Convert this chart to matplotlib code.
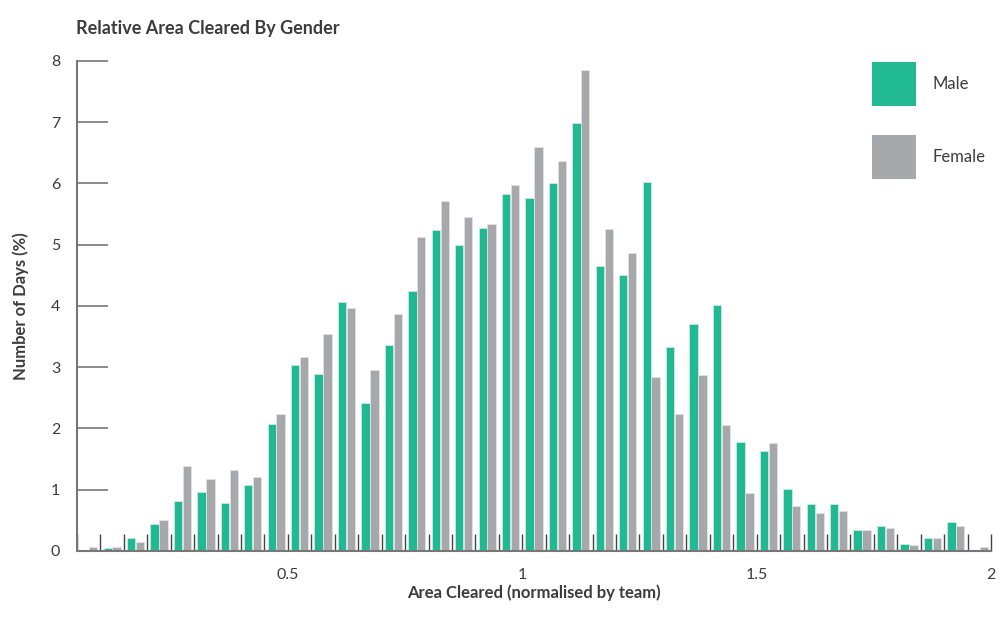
import numpy as np
import matplotlib
matplotlib.use('Agg')
import matplotlib.pyplot as plt
from matplotlib.patches import Rectangle
from matplotlib.ticker import MultipleLocator

plt.rcParams['font.family'] = ['Lato', 'DejaVu Sans']

# bin left edges, width 0.05, from 0.05 to 1.95
bin_width = 0.05
bin_edges = np.round(np.arange(0.05, 2.0, bin_width), 2)

male = [0.00, 0.05, 0.22, 0.44, 0.81, 0.96, 0.78, 1.08, 2.08, 3.04,
        2.89, 4.07, 2.42, 3.36, 4.24, 5.24, 5.00, 5.27, 5.83, 5.76,
        6.00, 6.98, 4.65, 4.51, 6.02, 3.33, 3.70, 4.02, 1.78, 1.64,
        1.02, 0.76, 0.76, 0.34, 0.41, 0.12, 0.22, 0.47, 0.00]
female = [0.06, 0.06, 0.14, 0.50, 1.38, 1.18, 1.32, 1.20, 2.23, 3.17,
          3.55, 3.96, 2.96, 3.87, 5.13, 5.71, 5.45, 5.34, 5.98, 6.60,
          6.36, 7.85, 5.25, 4.87, 2.84, 2.23, 2.87, 2.05, 0.94, 1.76,
          0.73, 0.62, 0.65, 0.35, 0.38, 0.09, 0.21, 0.41, 0.06]

GREEN = '#20b991'
GRAY = '#a7a8ab'
TEXT = '#3c3c3c'
AXIS = '#777777'

fig = plt.figure(figsize=(10, 6.38), dpi=100)
ax = fig.add_axes([0.077, 0.1364, 0.914, 0.768])

centers = bin_edges + bin_width / 2
bar_w = 0.0178
ax.bar(centers - 0.0095, male, width=bar_w, color=GREEN,
       edgecolor='#c8eee2', linewidth=0.6)
ax.bar(centers + 0.0095, female, width=bar_w, color=GRAY,
       edgecolor='#e2e2e4', linewidth=0.6)

ax.set_xlim(0.05, 2.0)
ax.set_ylim(0, 8)

for side in ['top', 'right']:
    ax.spines[side].set_visible(False)
for side in ['left', 'bottom']:
    ax.spines[side].set_color(AXIS)
    ax.spines[side].set_linewidth(1.5)

ax.set_xticks([0.5, 1, 1.5, 2], ['0.5', '1', '1.5', '2'])
ax.xaxis.set_minor_locator(MultipleLocator(bin_width))
ax.tick_params(axis='x', which='both', direction='in', length=12,
               width=1, color='#444444', labelsize=11.5, labelcolor=TEXT,
               pad=12)
ax.set_yticks(range(9))
ax.tick_params(axis='y', direction='in', length=22, width=1.2,
               color=AXIS, labelsize=11.5, labelcolor=TEXT, pad=12)

ax.set_xlabel('Area Cleared (normalised by team)', fontsize=12,
              fontweight='bold', color=TEXT, labelpad=2)
ax.set_ylabel('Number of Days (%)', fontsize=12, fontweight='bold',
              color=TEXT, labelpad=16)
fig.text(0.076, 0.955, 'Relative Area Cleared By Gender', fontsize=13,
         fontweight='bold', color=TEXT, ha='left', va='center')

# legend as squares in figure coords
for (label, color, y) in [('Male', GREEN, 62), ('Female', GRAY, 135)]:
    fig.add_artist(Rectangle((872 / 1000, 1 - (y + 44) / 638), 44 / 1000,
                             44 / 638, transform=fig.transFigure,
                             facecolor=color, edgecolor='none'))
    fig.text(933 / 1000, 1 - (y + 22) / 638, label, fontsize=12,
             color=TEXT, ha='left', va='center')

fig.savefig('out.png', dpi=100)
